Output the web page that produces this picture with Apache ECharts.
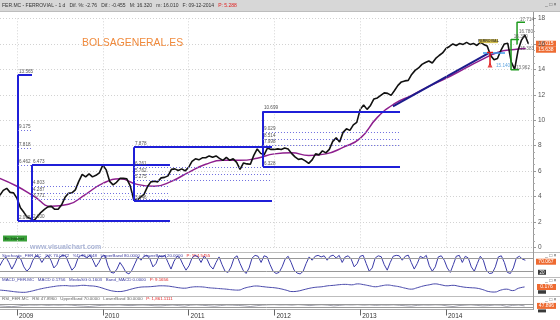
<!DOCTYPE html>
<html><head><meta charset="utf-8">
<script src="https://cdn.jsdelivr.net/npm/echarts@6/dist/echarts.min.js"></script>
<style>html,body{margin:0;padding:0;background:#fff}#c{width:560px;height:320px}</style>
</head><body><div id="c"></div>
<script>
// ---------- data ----------
const yearTicks = [2009, 2010, 2011, 2012, 2013, 2014];
const priceStart = 2008.80, priceStep = 0.04;
const priceValues = [
 4.09,4.48,4.64,4.32,4.28,3.85,3.11,2.75,2.36,2.24,
 2.10,2.44,2.75,2.99,3.18,3.22,2.99,2.99,3.34,3.93,
 4.25,4.28,4.52,5.19,5.74,5.54,5.78,5.54,5.66,5.86,
 6.47,6.09,5.19,4.91,5.11,5.42,5.42,5.39,4.83,3.75,
 3.70,3.95,4.17,4.76,5.15,5.19,5.15,5.46,5.50,5.62,
 6.13,6.17,6.05,6.17,6.01,6.29,6.76,6.96,6.88,7.04,
 7.04,7.19,7.08,7.19,7.00,6.84,7.08,6.84,6.96,6.68,
 6.13,6.64,6.56,6.53,7.23,7.74,7.39,7.27,7.82,7.70,
 7.70,7.74,7.70,7.82,7.74,7.39,7.11,6.92,6.96,6.80,
 6.60,6.88,7.35,7.27,7.59,7.43,7.70,8.33,8.61,8.29,
 9.04,9.32,9.20,9.63,9.83,10.85,11.20,10.85,11.16,11.67,
 11.75,11.95,12.15,12.11,11.95,12.34,12.74,13.01,13.09,13.13,
 13.60,13.92,14.11,14.39,14.54,14.66,14.50,14.86,15.09,15.29,
 15.64,15.80,16.00,15.88,16.04,15.96,16.12,15.96,16.04,15.88,
 16.12,15.96,15.84,15.09,14.75,14.85,15.50,16.00,16.05,14.60,
 14.00,15.50,16.30,16.70,16.01
];
const maYears = [2008.8,2009.0,2009.2,2009.4,2009.6,2009.8,2010.0,2010.2,2010.4,2010.6,2010.8,2011.0,2011.2,2011.4,2011.6,2011.8,2012.0,2012.2,2012.4,2012.6,2012.8,2013.0,2013.2,2013.4,2013.6,2013.8,2014.0,2014.2,2014.4,2014.6,2014.8,2014.93];
const maValues = [5.42,4.80,4.01,3.22,3.38,4.17,5.03,5.39,4.95,4.80,5.19,5.90,6.53,6.84,6.84,7.00,7.35,7.43,7.23,7.35,7.86,8.57,10.22,11.30,11.95,12.66,13.29,14.00,14.70,15.33,15.57,15.64];

// Fibonacci boxes
const fibStart  = [2009.012, 2009.175, 2010.364, 2011.867];
const fibEnd    = [2009.175, 2010.783, 2011.972, 2013.464];
const fibTop    = [13.565, 6.473, 7.878, 10.699];
const fibBottom = [2.065, 2.100, 3.646, 6.328];
const fibLevels = [[9.175,7.818,6.462],[4.803,4.287,3.771],[6.261,5.762,5.275],[9.029,8.514,7.998]];

const trendX = [2013.382, 2014.513], trendY = [11.08, 15.33];
const supportX = [2014.431, 2014.688], supportY = 15.28;
const greenA = [[2014.921,17.714],[2014.828,17.714],[2014.828,15.96]];
const greenB = [[2014.851,16.35],[2014.758,16.35],[2014.758,13.962],[2014.851,13.962]];
const redX = 2014.513, redTop = 15.33, redBottom = 14.35;
const annoText = ['17.714','16.780','16.320','15.383','13.962'];
const annoX = [2014.862,2014.850,2014.790,2014.862,2014.815];
const annoY = [17.92,16.98,16.59,15.64,14.15];
const blueAnno = {text:'15.140', x:2014.583, y:14.31};
const tagFerr = {text:'FERROVIAL', x:2014.495, y:16.22};
const lastPrices = [16.015, 15.638];

const stochStart = 2008.80, stochStep = 0.035;
const stochValues = [
 45,70,85,60,30,55,88,75,40,20,35,70,
 90,85,60,82,92,70,35,50,85,93,88,55,
 25,40,78,92,90,80,94,70,40,60,88,92,
 45,15,12,30,60,40,15,8,25,55,85,70,
 88,93,75,40,55,90,85,92,60,30,65,88,
 80,50,25,45,80,92,85,60,88,75,45,30,
 60,85,50,20,15,40,80,90,55,25,10,35,
 80,92,88,60,90,85,50,20,10,15,40,75,
 88,60,25,12,8,20,55,85,70,88,92,85,
 90,70,88,93,80,92,60,85,90,75,40,55,
 88,92,55,20,35,80,90,86,50,25,60,88,
 92,90,70,88,93,60,30,55,88,80,92,45,
 20,40,85,90,70,35,15,50,88,92,60,88,
 80,40,20,55,88,70,25,10,12,40,85,90,
 60,15,10,35,80,88,75,70
];
const oscStart = 2008.80, oscStep = 0.0695;
const macdValues = [
 -0.15,-0.2,-0.28,-0.35,-0.38,-0.3,-0.15,0.0,0.12,0.22,
 0.3,0.32,0.28,0.3,0.35,0.3,0.25,0.1,-0.1,-0.25,
 -0.3,-0.22,-0.05,0.1,0.18,0.2,0.25,0.3,0.28,0.2,
 0.1,0.05,0.15,0.2,0.18,0.1,0.05,0.0,-0.05,-0.12,
 -0.15,0.05,0.2,0.28,0.22,0.15,0.1,0.0,-0.15,-0.3,
 -0.25,-0.1,0.05,0.15,0.2,0.3,0.35,0.42,0.45,0.4,
 0.5,0.42,0.3,0.2,0.3,0.38,0.3,0.2,0.05,-0.05,
 0.1,0.28,0.4,0.5,0.4,0.3,0.35,0.25,0.15,0.1,
 0.05,-0.1,-0.3,-0.35,-0.15,-0.05,-0.2,0.05,0.18
];
const rsiValues = [
 48,42,38,45,55,60,58,62,55,60,
 57,62,58,50,45,40,48,55,60,58,
 62,55,52,58,60,56,50,48,55,60,
 52,45,58,62,56,50,44,52,60,58,
 54,48,40,50,58,62,64,60,62,58,
 65,60,52,60,63,58,48,55,62,60,
 64,58,62,55,60,58,62,56,50,45,
 55,60,58,62,60,48,40,52,58,62,
 55,48,52,60,58,42,55,60,48
];
const stochBands = [80, 20], rsiBands = [70, 30];

const titleMain = 'FER.MC - FERROVIAL - 1 d   Dif. %: -2.76   Dif.: -0.455   M: 16.320   m: 16.010   F: 09-12-2014   ';
const titleP = 'P: 5.288';
const stochHead = 'Stochastic_FER.MC   %K 70.0672   %D 75.0048   UpperBand 80.0000   LowerBand 20.0000   ';
const stochP = 'P: 554.5455';
const macdHead = 'MACD_FER.MC   MACD 0.1756   MediaSG 0.1603   Band_MACD 0.0000   ';
const macdP = 'P: 9.1656';
const rsiHead = 'RSI_FER.MC   RSI 47.8960   UpperBand 70.0000   LowerBand 30.0000   ';
const rsiP = 'P: 1,861.1111';
const tagStoch = 70.067, tagMacd = 0.176, tagRsi = 47.896;

// ---------- chart ----------
const xMin = 2008.802, xMax = 2015.014;
const FONT = 'Liberation Sans, Arial, sans-serif';
const seq = (start, step, vals) => vals.map((v, i) => [+(start + i * step).toFixed(4), v]);

const blue = '#1f1fd8', dotBlue = '#7070e0';
const fibMarks = [];
const lab = (t) => ({show:true, position:'insideStartTop', formatter:t, fontSize:4.6, color:'#555', distance:1, fontFamily:FONT});
fibStart.forEach((s, k) => {
  const e = fibEnd[k], t = fibTop[k], b = fibBottom[k];
  fibMarks.push([{coord:[s,b], lineStyle:{color:blue,width:2,type:'solid'}, label:{show:false}},{coord:[s,t]}]);
  fibMarks.push([{coord:[s,t], lineStyle:{color:blue,width:2,type:'solid'}, label:lab(t.toFixed(3))},{coord:[e,t]}]);
  fibMarks.push([{coord:[s,b], lineStyle:{color:blue,width:2,type:'solid'}, label:lab(b.toFixed(3))},{coord:[e,b]}]);
  fibLevels[k].forEach(l => {
    fibMarks.push([{coord:[s,l], lineStyle:{color:dotBlue,width:1,type:[1,2]}, label:lab(l.toFixed(3))},{coord:[e,l]}]);
  });
});

const grids = [
  {left:0, right:27, top:18.5, height:228.8},
  {left:0, right:27, top:253.6, height:22.1},
  {left:0, right:27, top:281, height:14.4},
  {left:0, right:27, top:302, height:7.5}
];
const hiddenX = (i) => ({type:'value', gridIndex:i, min:xMin, max:xMax, show:false});
const plainY = (i, mn, mx) => ({type:'value', gridIndex:i, min:mn, max:mx, position:'right',
  axisLine:{show:true, lineStyle:{color:'#999'}}, axisTick:{show:false}, axisLabel:{show:false}, splitLine:{show:false}});

const option = {
  animation:false,
  backgroundColor:'#fff',
  textStyle:{fontFamily:FONT},
  grid:grids,
  xAxis:[hiddenX(0), hiddenX(1), hiddenX(2), {
    type:'value', gridIndex:3, min:xMin, max:xMax, position:'bottom',
    axisLine:{show:true, lineStyle:{color:'#aaa'}},
    axisTick:{show:true, customValues:yearTicks, length:6, lineStyle:{color:'#666'}},
    axisLabel:{show:true, customValues:yearTicks, fontSize:6.5, color:'#333', align:'left', margin:3, padding:[0,0,0,2], formatter:(v)=>String(Math.round(v))},
    splitLine:{show:false}
  }],
  yAxis:[{
    type:'value', gridIndex:0, min:0, max:18, interval:2, position:'right',
    axisLine:{show:true, lineStyle:{color:'#999'}},
    axisTick:{show:true, length:3, lineStyle:{color:'#999'}},
    minorTick:{show:true, splitNumber:4, length:2, lineStyle:{color:'#aaa'}},
    axisLabel:{fontSize:6.5, color:'#555', margin:5},
    splitLine:{show:true, lineStyle:{color:'#d2d2d2', type:[1,2]}}
  }, plainY(1,0,100), plainY(2,-0.7,0.8), plainY(3,0,100)],
  series:[
    {type:'line', xAxisIndex:0, yAxisIndex:0, data:seq(priceStart, priceStep, priceValues), symbol:'none',
     lineStyle:{color:'#111', width:1.6}, z:3,
     markLine:{silent:true, symbol:['none','none'], label:{show:false},
       lineStyle:{color:'#d4d4d4', type:[1,2], width:1},
       data:yearTicks.map(y => ({xAxis:y}))}},
    {type:'line', xAxisIndex:0, yAxisIndex:0, data:maYears.map((x,i)=>[x, maValues[i]]), symbol:'none', smooth:true,
     lineStyle:{color:'#8e1f8e', width:1.5}, z:2,
     markLine:{silent:true, symbol:['none','none'], data:fibMarks}},
    {type:'line', xAxisIndex:0, yAxisIndex:0, data:trendX.map((x,i)=>[x, trendY[i]]), symbol:'none',
     lineStyle:{color:'#1c1c8c', width:2}, z:4},
    {type:'line', xAxisIndex:0, yAxisIndex:0, data:supportX.map(x=>[x, supportY]), symbol:'none',
     lineStyle:{color:'#3d9be9', width:1.5}, z:4},
    {type:'line', xAxisIndex:0, yAxisIndex:0, data:greenA, symbol:'none', lineStyle:{color:'#1e9a1e', width:1.5}, z:4},
    {type:'line', xAxisIndex:0, yAxisIndex:0, data:greenB, symbol:'none', lineStyle:{color:'#1e9a1e', width:1.5}, z:4},
    {type:'line', xAxisIndex:0, yAxisIndex:0, data:[[redX, redTop],[redX, redBottom]], symbol:'none', lineStyle:{color:'#e01818', width:1.5}, z:5},
    {type:'line', xAxisIndex:0, yAxisIndex:0, data:[[redX-0.035, redTop],[redX+0.035, redTop]], symbol:'none', lineStyle:{color:'#e01818', width:1.5}, z:5},
    {type:'scatter', xAxisIndex:0, yAxisIndex:0, data:[[redX, redBottom]], symbol:'triangle', symbolSize:[5,5], itemStyle:{color:'#e01818'}, z:5},
    {type:'scatter', xAxisIndex:0, yAxisIndex:0, data:[[tagFerr.x, tagFerr.y]], symbol:'rect', symbolSize:[19,4], itemStyle:{color:'#c4ab22'}, z:6,
     label:{show:true, position:'inside', formatter:tagFerr.text, fontSize:3.6, color:'#222', fontWeight:'bold'}},
    {type:'scatter', xAxisIndex:0, yAxisIndex:0, data:annoX.map((x,i)=>({value:[x, annoY[i]], name:annoText[i]})), symbolSize:0, z:6,
     label:{show:true, position:'right', distance:0, formatter:'{b}', fontSize:4.6, color:'#444'}},
    {type:'scatter', xAxisIndex:0, yAxisIndex:0, data:[{value:[blueAnno.x, blueAnno.y], name:blueAnno.text}], symbolSize:0, z:6,
     label:{show:true, position:'right', distance:0, formatter:'{b}', fontSize:4.6, color:'#3b8fd8'}},
    // stochastic
    {type:'line', xAxisIndex:1, yAxisIndex:1, data:seq(stochStart, stochStep, stochValues), symbol:'none',
     lineStyle:{color:'#3b3ba8', width:1},
     markLine:{silent:true, symbol:['none','none'], label:{show:false}, lineStyle:{color:'#999', type:'solid', width:1},
       data:stochBands.map(v=>({yAxis:v}))}},
    // macd
    {type:'line', xAxisIndex:2, yAxisIndex:2, data:seq(oscStart, oscStep, macdValues), symbol:'none', smooth:true,
     lineStyle:{color:'#4848aa', width:1}},
    // rsi
    {type:'line', xAxisIndex:3, yAxisIndex:3, data:seq(oscStart, oscStep, rsiValues), symbol:'none',
     lineStyle:{color:'#8a8a9a', width:0.8},
     markLine:{silent:true, symbol:['none','none'], label:{show:false}, lineStyle:{color:'#999', type:'solid', width:1},
       data:rsiBands.map(v=>({yAxis:v}))}}
  ]
};

const chart = echarts.init(document.getElementById('c'), null, {renderer:'canvas'});
chart.setOption(option);

const py = (i, v) => chart.convertToPixel({yAxisIndex:i}, v);
const tag = (x, yc, w, h, bg, txt, col, fs) => ({type:'group', children:[
  {type:'rect', shape:{x:x, y:yc-h/2, width:w, height:h}, style:{fill:bg}},
  {type:'text', x:x+w/2, y:yc, style:{text:txt, fill:col, fontSize:fs, fontFamily:FONT, align:'center', verticalAlign:'middle'}}
]});
const head = (y, a, b, col) => ({type:'text', left:2, top:y, style:{
  text:'{a|'+a+'}{b|'+b+'}', rich:{a:{fill:col, fontSize:4.4, fontFamily:FONT}, b:{fill:'#e02020', fontSize:4.4, fontFamily:FONT}}}});
const icons = (y) => ({type:'text', left:545, top:y, style:{text:'_ \u25a1 \u00d7', fill:'#555', fontSize:5, fontFamily:FONT}});
const sep = (y) => ({type:'line', shape:{x1:0, y1:y, x2:560, y2:y}, style:{stroke:'#bdbdbd', lineWidth:1}});

const yA = py(0, lastPrices[0]);
const yB = Math.max(py(0, lastPrices[1]), yA + 6);
const orange = '#ee6a30';

chart.setOption({graphic:[
  {type:'rect', shape:{x:0, y:0, width:560, height:11.5}, style:{fill:'#d7d7d7'}, z:-1},
  sep(11.5), sep(252.5), sep(277.5), sep(296.5),
  {type:'line', shape:{x1:533.5, y1:12, x2:533.5, y2:310}, style:{stroke:'#999', lineWidth:1}},
  {type:'text', left:2, top:3.5, style:{text:'{a|'+titleMain+'}{b|'+titleP+'}',
     rich:{a:{fill:'#333', fontSize:5, fontFamily:FONT}, b:{fill:'#e02020', fontSize:5, fontFamily:FONT}}}},
  icons(2), icons(253), icons(278), icons(296.8),
  head(253.6, stochHead, stochP, '#3c3ca0'),
  head(278.2, macdHead, macdP, '#3c3ca0'),
  head(296.8, rsiHead, rsiP, '#666'),
  {type:'text', left:82, top:38.5, style:{text:'BOLSAGENERAL.ES', fill:'#f08a3c', fontSize:10.4, fontFamily:FONT}},
  {type:'text', left:30, top:243.5, style:{text:'www.visualchart.com', fill:'#aab4d6', fontSize:7, fontWeight:'bold', fontFamily:FONT}},
  {type:'rect', shape:{x:3, y:235.5, width:24, height:6}, style:{fill:'#39a039'}},
  {type:'text', left:4.5, top:236.6, style:{text:'En Internet', fill:'#103010', fontSize:4, fontFamily:FONT}},
  tag(536, yA, 20, 6, orange, lastPrices[0].toFixed(3), '#fff', 5),
  tag(536, yB, 20, 6, orange, lastPrices[1].toFixed(3), '#fff', 5),
  tag(536, py(1, tagStoch) + 1.5, 20, 6, orange, tagStoch.toFixed(3), '#fff', 5),
  tag(538, py(1, 20) + 1, 8, 5, '#3a3a3a', '20', '#fff', 4.5),
  tag(537, py(2, tagMacd), 19, 6, orange, tagMacd.toFixed(3), '#fff', 5),
  tag(538, py(2, tagMacd) + 5, 8, 3.5, '#3a3a3a', '', '#fff', 3),
  tag(537, py(3, tagRsi), 19, 6, orange, tagRsi.toFixed(3), '#fff', 5),
  tag(538, py(3, tagRsi) + 5, 8, 3, '#3a3a3a', '', '#fff', 3)
]});
</script>
</body></html>
